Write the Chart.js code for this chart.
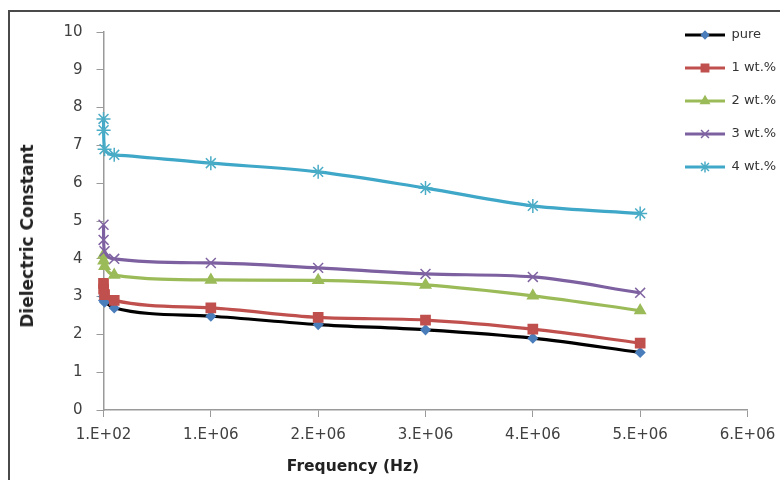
<!DOCTYPE html>
<html>
<head>
<meta charset="utf-8">
<script src="https://cdn.jsdelivr.net/npm/chart.js@4"></script>
<style>
  body { margin: 0; background: #fff; }
  #wrap { position: relative; width: 780px; height: 480px; overflow: hidden; }
  #frame { position: absolute; left: 8px; top: 10px; width: 800px; height: 500px; border: 2px solid #4a4a4a; }
  #chart { position: absolute; left: 0; top: 0; }
  .ytitle { position: absolute; left: 27px; top: 236px; transform: translate(-50%, -50%) rotate(-90deg);
            font: bold 17px "DejaVu Sans", sans-serif; color: #222; white-space: nowrap; }
  .xtitle { position: absolute; left: 353px; top: 466px; transform: translate(-50%, -50%);
            font: bold 15.5px "DejaVu Sans", sans-serif; color: #222; white-space: nowrap; }
</style>
</head>
<body>
<div id="wrap">
  <div id="frame"></div>
  <canvas id="chart" width="780" height="480"></canvas>
  <div class="ytitle">Dielectric Constant</div>
  <div class="xtitle">Frequency (Hz)</div>
</div>
<script>
// frequency in Hz
const freq = [100, 1000, 10000, 100000, 1000000, 2000000, 3000000, 4000000, 5000000];

const pure = [3.0, 2.9, 2.85, 2.7, 2.48, 2.26, 2.12, 1.9, 1.52];
const wt1  = [3.35, 3.2, 3.05, 2.9, 2.7, 2.45, 2.38, 2.14, 1.77];
const wt2  = [4.1, 3.95, 3.8, 3.57, 3.44, 3.43, 3.31, 3.02, 2.63];
const wt3  = [4.9, 4.5, 4.2, 4.0, 3.89, 3.76, 3.6, 3.52, 3.1];
const wt4  = [7.7, 7.4, 6.9, 6.75, 6.53, 6.3, 5.87, 5.4, 5.2];

const seriesNames = ['pure', '1 wt.%', '2 wt.%', '3 wt.%', '4 wt.%'];
const xTickLabels = ['1.E+02', '1.E+06', '2.E+06', '3.E+06', '4.E+06', '5.E+06', '6.E+06'];

const series = [
    { data: pure, line: '#000000', mark: '#4a7ebb', style: 'rectRot', r: 4.5 },
    { data: wt1,  line: '#c0504d', mark: '#c0504d', style: 'rect',    r: 6.5 },
    { data: wt2,  line: '#9bbb59', mark: '#9bbb59', style: 'triangle', r: 6 },
    { data: wt3,  line: '#7d60a0', mark: '#8064a2', style: 'crossRot', r: 7 },
    { data: wt4,  line: '#3fa7c8', mark: '#4bacc6', style: 'star',    r: 7 }
];

// legend icon: short line with the marker on it, like Excel
function makeIcon(s) {
    const c = document.createElement('canvas');
    c.width = 40;
    c.height = 16;
    const ctx = c.getContext('2d');
    ctx.strokeStyle = s.line;
    ctx.lineWidth = 3;
    ctx.beginPath();
    ctx.moveTo(0, 8);
    ctx.lineTo(40, 8);
    ctx.stroke();
    ctx.fillStyle = s.mark;
    ctx.strokeStyle = s.mark;
    ctx.lineWidth = 1.5;
    Chart.helpers.drawPoint(ctx, { pointStyle: s.style, radius: s.r * 0.8, rotation: 0, borderWidth: 1.5 }, 20, 8);
    return c;
}
const icons = series.map(makeIcon);

const legendMover = {
    id: 'legendMover',
    beforeDraw(chart) {
        const lg = chart.legend;
        lg.left = 665;
        lg.right = 780;
        lg.top = 8.5;
        lg.bottom = 230;
    }
};

const axisColor = '#9a9a9a';
const tickFont = { family: '"DejaVu Sans", sans-serif', size: 15 };

new Chart(document.getElementById('chart').getContext('2d'), {
    type: 'line',
    data: {
        datasets: series.map((s, i) => ({
            label: seriesNames[i],
            data: s.data.map((v, j) => ({ x: freq[j], y: v })),
            borderColor: s.line,
            backgroundColor: s.mark,
            borderWidth: 3.2,
            pointStyle: s.style,
            pointRadius: s.r,
            pointBackgroundColor: s.mark,
            pointBorderColor: s.mark,
            pointBorderWidth: 1.5,
            cubicInterpolationMode: 'monotone',
            clip: false,
            order: series.length - i
        }))
    },
    options: {
        responsive: false,
        animation: false,
        layout: { padding: { left: 0, top: 32, right: 32.5, bottom: 0 } },
        scales: {
            x: {
                type: 'linear',
                min: 0,
                max: 6000000,
                grid: { drawOnChartArea: false, color: axisColor, tickLength: 7 },
                border: { color: axisColor, width: 1.5 },
                ticks: {
                    stepSize: 1000000,
                    color: '#404040',
                    font: tickFont,
                    padding: 9,
                    maxRotation: 0,
                    callback: (v, i) => xTickLabels[i]
                },
                afterFit: scale => {
                    scale.height = 70;
                    scale.paddingLeft = 0;
                    scale.paddingRight = 0;
                }
            },
            y: {
                min: 0,
                max: 10,
                grid: { drawOnChartArea: false, color: axisColor, tickLength: 7 },
                border: { color: axisColor, width: 1.5 },
                ticks: { stepSize: 1, color: '#404040', font: tickFont, padding: 14 },
                afterFit: scale => { scale.width = 103.5; }
            }
        },
        plugins: {
            legend: {
                position: 'chartArea',
                align: 'start',
                labels: {
                    usePointStyle: true,
                    pointStyleWidth: 40,
                    padding: 20,
                    color: '#333',
                    font: { family: '"DejaVu Sans", sans-serif', size: 13 },
                    sort: (a, b) => a.datasetIndex - b.datasetIndex,
                    generateLabels: chart => {
                        const items = Chart.defaults.plugins.legend.labels.generateLabels(chart);
                        items.forEach(it => { it.pointStyle = icons[it.datasetIndex]; });
                        return items;
                    }
                }
            },
            tooltip: { enabled: false }
        }
    },
    plugins: [legendMover]
});
</script>
</body>
</html>
